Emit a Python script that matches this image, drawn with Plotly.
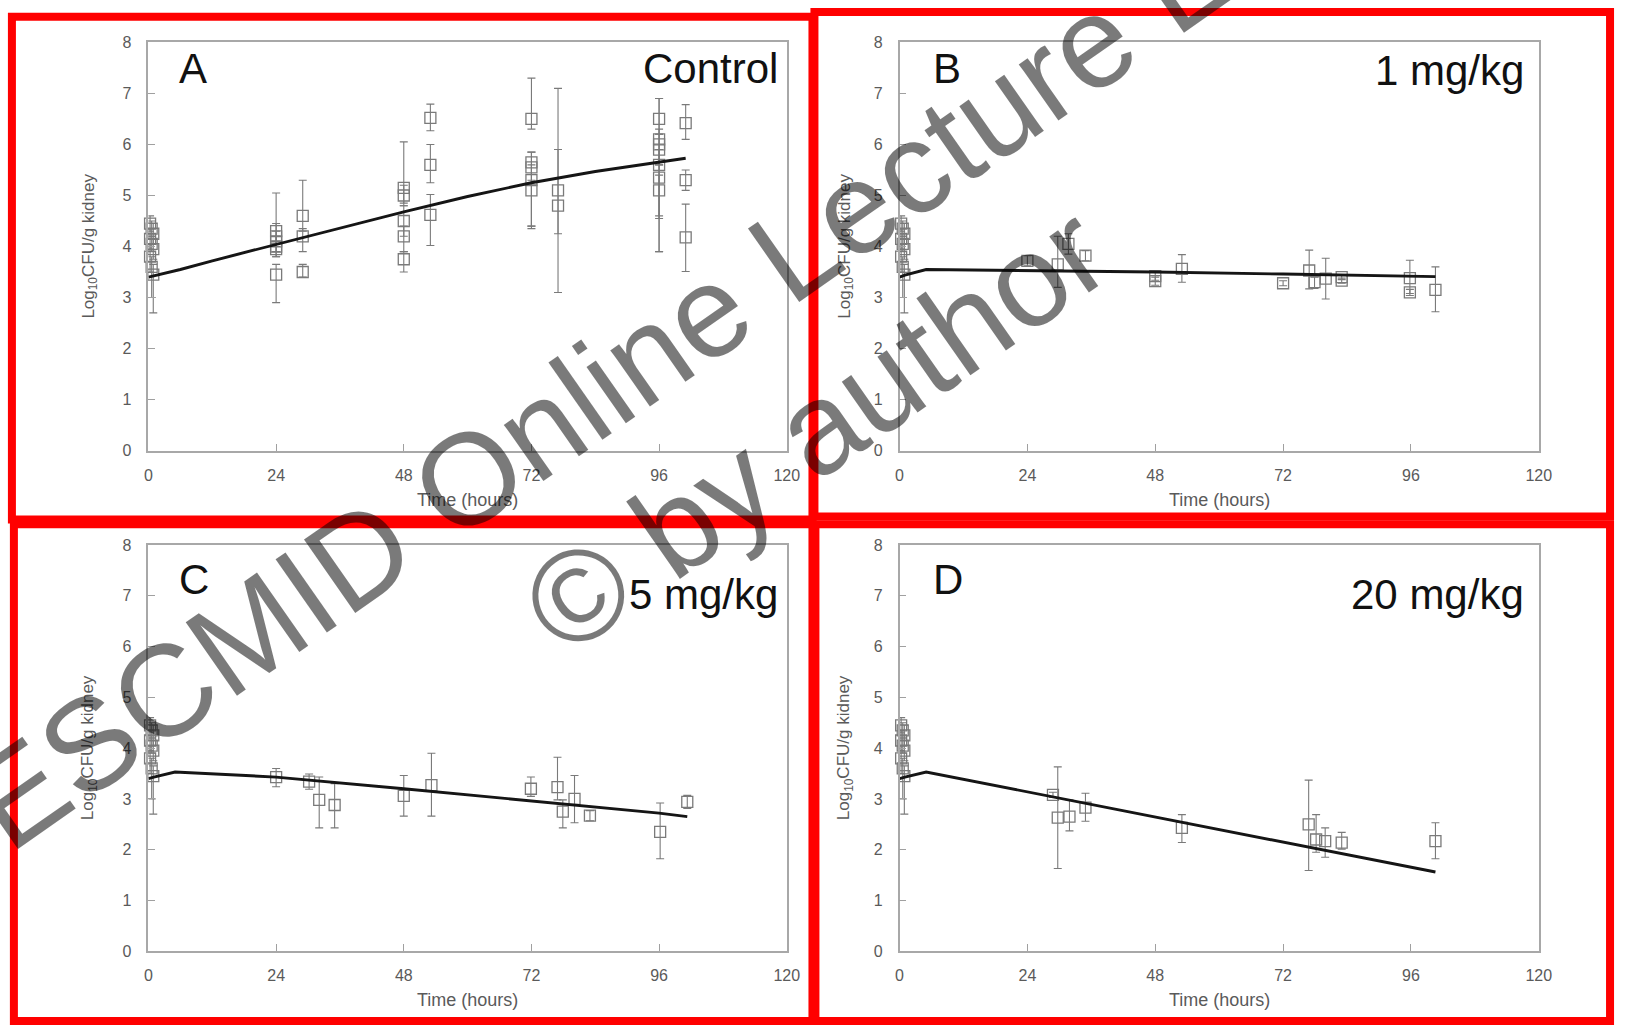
import plotly.graph_objects as go

W, H = 1627, 1034

# ---------------- data ----------------
# baseline (t ~ 0) cluster, shared by all panels
base_t = [0.3, 0.6, 0.9, 0.3, 0.6, 0.9, 0.3, 0.6, 0.9]
base_v = [4.45, 4.35, 4.25, 4.15, 4.05, 3.95, 3.8, 3.6, 3.45]
base_up = [0.15, 0.15, 0.2, 0.2, 0.15, 0.2, 0.25, 0.2, 0.2]
base_dn = [0.15, 0.15, 0.2, 0.2, 0.15, 0.2, 0.3, 0.6, 0.75]

# Panel A (Control)
a_t = [24, 24, 24, 24, 24, 24, 29, 29, 29, 48, 48, 48, 48, 48, 53, 53, 53,
       72, 72, 72, 72, 72, 77, 77, 96, 96, 96, 96, 96, 96, 96, 101, 101, 101]
a_v = [4.3, 4.2, 4.1, 4.0, 3.95, 3.45, 4.6, 4.2, 3.5, 5.15, 5.0, 4.5, 4.2, 3.75, 6.52, 5.6, 4.62,
       6.5, 5.65, 5.55, 5.3, 5.1, 5.1, 4.8, 6.5, 6.1, 6.0, 5.9, 5.6, 5.35, 5.1, 6.42, 5.3, 4.18]
a_up = [0.75, 0.25, 0.2, 0.2, 0.15, 0.2, 0.7, 0.15, 0.15, 0.9, 0.2, 0.3, 0.2, 0.15, 0.27, 0.4, 0.4,
        0.8, 0.2, 0.3, 0.3, 0.2, 2.0, 1.1, 0.4, 0.8, 0.3, 0.3, 0.3, 0.3, 0.3, 0.36, 0.2, 0.65]
a_dn = [0.3, 0.2, 0.2, 0.2, 0.15, 0.55, 0.3, 0.3, 0.1, 0.3, 0.2, 0.3, 0.3, 0.25, 0.25, 0.35, 0.6,
        0.2, 0.45, 1.2, 0.9, 0.7, 0.85, 1.7, 0.3, 0.5, 0.4, 1.3, 1.7, 0.8, 1.2, 0.32, 0.2, 0.67]
a_fit_t = [0, 6, 12, 24, 36, 48, 60, 72, 84, 96, 101]
a_fit_v = [3.4, 3.55, 3.72, 4.04, 4.37, 4.68, 4.98, 5.25, 5.47, 5.66, 5.73]

# Panel B (1 mg/kg)
b_t = [24, 29.7, 31.7, 34.9, 48, 48, 53, 72, 76.9, 77.9, 80, 83, 83, 95.8, 95.8, 100.6]
b_v = [3.72, 3.65, 4.05, 3.82, 3.42, 3.32, 3.56, 3.28, 3.53, 3.3, 3.37, 3.4, 3.33, 3.38, 3.1, 3.15]
b_up = [0.1, 0.55, 0.2, 0.1, 0.08, 0.08, 0.28, 0.05, 0.4, 0.1, 0.4, 0.05, 0.05, 0.35, 0.06, 0.45]
b_dn = [0.1, 0.45, 0.2, 0.1, 0.08, 0.08, 0.26, 0.05, 0.36, 0.12, 0.4, 0.05, 0.05, 0.3, 0.06, 0.43]
b_fit_t = [0, 1, 5, 24, 48, 72, 96, 100.6]
b_fit_v = [3.4, 3.44, 3.55, 3.53, 3.5, 3.46, 3.42, 3.41]

# Panel C (5 mg/kg)
c_t = [24, 30.2, 32.1, 35, 48, 53.2, 71.9, 76.9, 77.9, 80.1, 83, 96.2, 101.3]
c_v = [3.43, 3.34, 2.98, 2.88, 3.06, 3.27, 3.2, 3.23, 2.75, 3.0, 2.67, 2.35, 2.94]
c_up = [0.17, 0.15, 0.45, 0.42, 0.4, 0.63, 0.23, 0.59, 0.23, 0.46, 0.1, 0.57, 0.13]
c_dn = [0.19, 0.15, 0.55, 0.45, 0.4, 0.61, 0.15, 0.25, 0.32, 0.47, 0.1, 0.53, 0.13]
c_fit_t = [0, 1, 5, 24, 48, 72, 96, 101.3]
c_fit_v = [3.4, 3.43, 3.53, 3.43, 3.2, 2.96, 2.72, 2.65]

# Panel D (20 mg/kg)
d_t = [28.8, 29.7, 31.9, 34.9, 53, 76.8, 78.2, 79.9, 83, 100.6]
d_v = [3.08, 2.63, 2.65, 2.83, 2.43, 2.5, 2.2, 2.17, 2.14, 2.17]
d_up = [0.05, 1.0, 0.33, 0.28, 0.26, 0.87, 0.49, 0.26, 0.2, 0.36]
d_dn = [0.05, 1.0, 0.28, 0.27, 0.29, 0.91, 0.25, 0.32, 0.13, 0.35]
d_fit_t = [0, 1, 5, 24, 48, 72, 96, 100.6]
d_fit_v = [3.4, 3.43, 3.53, 3.14, 2.64, 2.15, 1.65, 1.56]

x_ticks = [0, 24, 48, 72, 96, 120]
x_ticktext = ["0", "24", "48", "72", "96", "120"]
y_ticks = [0, 1, 2, 3, 4, 5, 6, 7, 8]
letters = ["A", "B", "C", "D"]
doses = ["Control", "1 mg/kg", "5 mg/kg", "20 mg/kg"]
x_title = "Time (hours)"
y_title = "Log<sub>10</sub>CFU/g kidney"
watermark1 = "ESCMID Online Lecture Library"
watermark2 = "\u00a9 by author"

# ---------------- layout helpers ----------------
def px(x):
    return x / W

def py(y):
    return 1 - y / H

# plot areas in pixels: (left, right, top, bottom)
areas = [(146, 791, 35, 450), (905, 1551, 35, 450), (146, 791, 546, 959), (905, 1551, 546, 959)]

panels = [
    (a_t, a_v, a_up, a_dn, a_fit_t, a_fit_v),
    (b_t, b_v, b_up, b_dn, b_fit_t, b_fit_v),
    (c_t, c_v, c_up, c_dn, c_fit_t, c_fit_v),
    (d_t, d_v, d_up, d_dn, d_fit_t, d_fit_v),
]

GRAY = "#7a7a7a"
FONT = "Arial, Liberation Sans, sans-serif"

fig = go.Figure()
layout = dict(
    width=W, height=H, autosize=False,
    margin=dict(l=0, r=0, t=0, b=0),
    paper_bgcolor="white", plot_bgcolor="white",
    showlegend=False,
    font=dict(family=FONT),
)

annotations = []
shapes = []

letter_off = [27, 27, 35, 35]
dose_off = [27, 29, 50, 50]
letter_dx = [29, 32, 29, 32]
dose_dx = [7, 13, 7, 13]

for i, (pt, pv, pu, pd_, ft, fv) in enumerate(panels):
    k = "" if i == 0 else str(i + 1)
    xa, ya = "x" + k, "y" + k
    l, r, t, b = areas[i]
    all_t = base_t + pt
    all_v = base_v + pv
    all_u = base_up + pu
    all_d = base_dn + pd_
    fig.add_trace(go.Scatter(
        x=all_t, y=all_v, mode="markers", xaxis=xa, yaxis=ya,
        marker=dict(symbol="square-open", size=11, color=GRAY, line=dict(width=1.3, color=GRAY)),
        error_y=dict(type="data", symmetric=False, array=all_u, arrayminus=all_d,
                     color=GRAY, thickness=1.1, width=4),
        cliponaxis=False,
    ))
    fig.add_trace(go.Scatter(
        x=ft, y=fv, mode="lines", xaxis=xa, yaxis=ya,
        line=dict(color="#151515", width=2.9),
    ))
    axis_common = dict(
        showline=True, linecolor="#a8a8a8", linewidth=1.6, mirror=True,
        ticks="inside", ticklen=7, tickcolor="#a0a0a0", tickwidth=1.3,
        showgrid=False, zeroline=False,
        tickfont=dict(family=FONT, size=16, color="#5a5a5a"),
        fixedrange=True,
    )
    layout["xaxis" + k] = dict(
        axis_common, domain=[px(l), px(r)], range=[0, 120],
        tickvals=x_ticks, ticktext=x_ticktext, anchor=ya, ticklabelstandoff=9,
    )
    layout["yaxis" + k] = dict(
        axis_common, domain=[py(b), py(t)], range=[0, 8],
        tickvals=y_ticks, anchor=xa, ticklabelstandoff=12,
    )
    # axis titles
    annotations.append(dict(
        text=x_title, xref="paper", yref="paper", x=px((l + r) / 2),
        y=py(b + 50), xanchor="center", yanchor="middle", showarrow=False,
        font=dict(family=FONT, size=18, color="#5a5a5a"),
    ))
    annotations.append(dict(
        text=y_title, xref="paper", yref="paper", x=px(l - (60 if i % 2 == 0 else 55)),
        y=py((t + b) / 2), xanchor="center", yanchor="middle", showarrow=False,
        textangle=-90, font=dict(family=FONT, size=17, color="#5a5a5a"),
    ))
    # panel letter and dose label
    annotations.append(dict(
        text=letters[i], xref="paper", yref="paper", x=px(l + letter_dx[i]), y=py(t + letter_off[i]),
        xanchor="left", yanchor="middle", showarrow=False,
        font=dict(family=FONT, size=42, color="#111"),
    ))
    annotations.append(dict(
        text=doses[i], xref="paper", yref="paper", x=px(r - dose_dx[i]),
        y=py(t + dose_off[i]), xanchor="right", yanchor="middle", showarrow=False,
        font=dict(family=FONT, size=42, color="#111"),
    ))

# red frames (pixel centre lines)
frames = [(8, 817, 9, 520), (819, 1623, 4, 517), (10, 817, 525, 1030), (820, 1623, 525, 1030)]
for (x0, x1, y0, y1) in frames:
    shapes.append(dict(
        type="rect", xref="paper", yref="paper",
        x0=px(x0), x1=px(x1), y0=py(y1), y1=py(y0),
        line=dict(color="#ff0000", width=8), fillcolor="rgba(0,0,0,0)", layer="above",
    ))

# watermark
annotations.append(dict(
    text=watermark1, xref="paper", yref="paper", x=px(733), y=py(293),
    xanchor="center", yanchor="middle", showarrow=False, textangle=-35,
    font=dict(family=FONT, size=130, color="rgba(0,0,0,0.52)"),
))
annotations.append(dict(
    text=watermark2, xref="paper", yref="paper", x=px(820), y=py(428),
    xanchor="center", yanchor="middle", showarrow=False, textangle=-35,
    font=dict(family=FONT, size=130, color="rgba(0,0,0,0.52)"),
))

layout["annotations"] = annotations
layout["shapes"] = shapes
fig.update_layout(**layout)

fig.write_html("out.html", config={"displayModeBar": False})
